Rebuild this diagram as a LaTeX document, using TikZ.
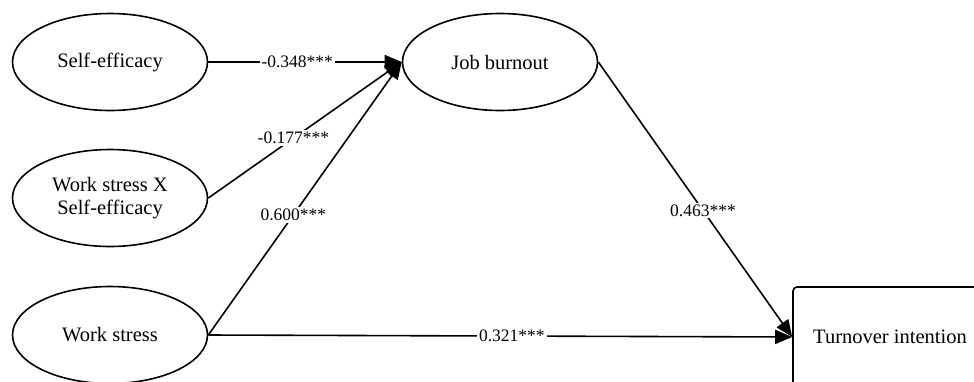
\documentclass[tikz,border=0pt]{standalone}
\usepackage{fontspec}
\setmainfont{Liberation Serif}
\usetikzlibrary{shapes.geometric,arrows.meta}
\begin{document}
\begin{tikzpicture}[x=1pt,y=-1pt,
  latent/.style={draw,line width=1.6pt,ellipse,minimum width=195pt,minimum height=97pt,inner sep=0pt,font=\rmfamily\fontsize{20.5}{23}\selectfont,align=center},
  observed/.style={draw,line width=1.6pt,rounded corners=4pt,minimum width=194pt,minimum height=100pt,inner sep=0pt,font=\rmfamily\fontsize{20.5}{23}\selectfont},
  path/.style={line width=1.6pt,-{Triangle[length=17pt,width=14pt]}},
  coef/.style={fill=white,inner sep=2pt,font=\rmfamily\fontsize{17.5}{20}\selectfont}]
\useasboundingbox (0,0) rectangle (974,381);
\clip (0,0) rectangle (974,381);
\node[latent] (se) at (110,62) {Self-efficacy};
\node[latent] (wsx) at (110,198) {Work stress X\\Self-efficacy};
\node[latent] (ws) at (110,335) {Work stress};
\node[latent] (jb) at (500,62) {Job burnout};
\node[observed] (ti) at (890,337) {Turnover intention};
\draw[path] (se.east) -- node[coef,pos=0.46] {-0.348***} (jb.west);
\draw[path] (wsx.east) -- node[coef,pos=0.44] {-0.177***} (jb.west);
\draw[path] (ws.east) -- node[coef,pos=0.44] {0.600***} (jb.west);
\draw[path] (jb.east) -- node[coef,pos=0.54] {0.463***} (ti.west);
\draw[path] (ws.east) -- node[coef,pos=0.52] {0.321***} (ti.west);
\end{tikzpicture}
\end{document}
